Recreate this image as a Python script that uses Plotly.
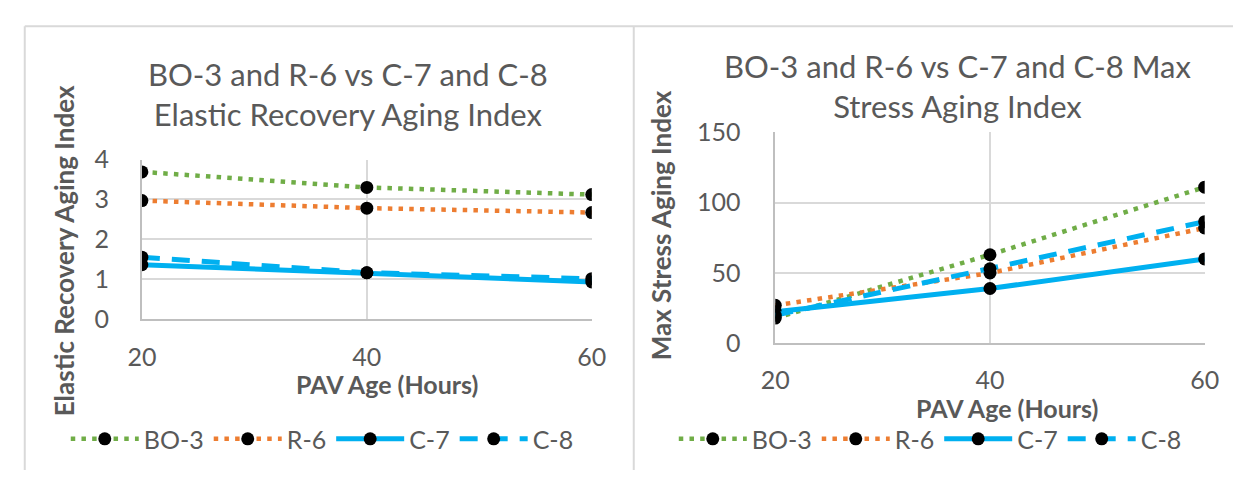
import plotly.graph_objects as go

W, H = 1248, 484

pav_hours = [20, 40, 60]
series_names = ["BO-3", "R-6", "C-7", "C-8"]

# Elastic Recovery Aging Index
er_bo3 = [3.69, 3.30, 3.12]
er_r6 = [2.97, 2.78, 2.67]
er_c7 = [1.36, 1.16, 0.93]
er_c8 = [1.55, 1.16, 1.01]

# Max Stress Aging Index
ms_bo3 = [18.0, 63.0, 111.0]
ms_r6 = [27.0, 50.0, 82.0]
ms_c7 = [22.5, 39.0, 60.0]
ms_c8 = [20.0, 53.0, 86.5]

x_ticks = [20, 40, 60]
er_ticks = [0, 1, 2, 3, 4]
ms_ticks = [0, 50, 100, 150]

FONT = "Lato"
GRAY = "#595959"
GRID = "#d9d9d9"
AXL = "#bfbfbf"

styles = {
    "BO-3": dict(color="#70AD47", width=4.5, dash="4.5px,6.2px"),
    "R-6": dict(color="#ED7D31", width=4.5, dash="4.5px,6.2px"),
    "C-7": dict(color="#00B0F0", width=5, dash="solid"),
    "C-8": dict(color="#00B0F0", width=5, dash="18px,12px"),
}


def px_x(p):
    return p / W


def px_y(p):
    return 1 - p / H


fig = go.Figure()

left_data = [er_bo3, er_r6, er_c7, er_c8]
right_data = [ms_bo3, ms_r6, ms_c7, ms_c8]

for name, ys in zip(series_names, left_data):
    fig.add_trace(go.Scatter(
        x=pav_hours, y=ys, name=name, mode="lines+markers",
        line=styles[name], marker=dict(color="black", size=13),
        xaxis="x", yaxis="y", legend="legend"))

for name, ys in zip(series_names, right_data):
    fig.add_trace(go.Scatter(
        x=pav_hours, y=ys, name=name, mode="lines+markers",
        line=styles[name], marker=dict(color="black", size=13),
        xaxis="x2", yaxis="y2", legend="legend2"))

axis_common = dict(
    showgrid=True, gridcolor=GRID, gridwidth=1.5,
    showline=True, linecolor=AXL, linewidth=1.5,
    zeroline=False, ticks="",
    tickfont=dict(family=FONT, size=25, color=GRAY),
)

legend_common = dict(orientation="h", xanchor="left", yanchor="middle",
                     font=dict(family=FONT, size=25, color=GRAY), itemwidth=68,
                     bgcolor="rgba(0,0,0,0)", tracegroupgap=0)

fig.update_layout(
    width=W, height=H,
    margin=dict(l=0, r=0, t=0, b=0),
    paper_bgcolor="white", plot_bgcolor="white",
    font=dict(family=FONT, color=GRAY),
    xaxis=dict(domain=[px_x(130), px_x(591)], range=[20, 60],
               tickvals=x_ticks, anchor="y", ticklabelstandoff=15, **axis_common),
    yaxis=dict(domain=[px_y(323), px_y(153)], range=[0, 4],
               tickvals=er_ticks, anchor="x", ticklabelstandoff=26, **axis_common),
    xaxis2=dict(domain=[px_x(779), px_x(1219)], range=[20, 60],
                tickvals=x_ticks, anchor="y2", ticklabelstandoff=14, **axis_common),
    yaxis2=dict(domain=[px_y(349), px_y(124)], range=[0, 150],
                tickvals=ms_ticks, anchor="x2", ticklabelstandoff=28, **axis_common),
    legend=dict(x=px_x(52), y=px_y(451), **legend_common),
    legend2=dict(x=px_x(675), y=px_y(451), **legend_common),
)

annots = [
    dict(text="BO-3 and R-6 vs C-7 and C-8<br>Elastic Recovery Aging Index",
         x=px_x(341), y=px_y(83), font=dict(size=31)),
    dict(text="BO-3 and R-6 vs C-7 and C-8 Max<br>Stress Aging Index",
         x=px_x(966), y=px_y(75), font=dict(size=31)),
    dict(text="<b>PAV Age (Hours)</b>", x=px_x(381), y=px_y(392), font=dict(size=25)),
    dict(text="<b>PAV Age (Hours)</b>", x=px_x(1016), y=px_y(418), font=dict(size=25)),
    dict(text="<b>Elastic Recovery Aging Index</b>", x=px_x(50), y=px_y(250),
         textangle=-90, font=dict(size=26)),
    dict(text="<b>Max Stress Aging Index</b>", x=px_x(662), y=px_y(223),
         textangle=-90, font=dict(size=26)),
]
for a in annots:
    a["font"].update(family=FONT, color=GRAY)
    fig.add_annotation(xref="paper", yref="paper", showarrow=False,
                       xanchor="center", yanchor="middle", **a)

border = dict(color="#d9d9d9", width=2)
fig.add_shape(type="line", xref="paper", yref="paper", x0=px_x(10), x1=1, y0=px_y(11), y1=px_y(11), line=border)
fig.add_shape(type="line", xref="paper", yref="paper", x0=px_x(10), x1=px_x(10), y0=0, y1=px_y(11), line=border)
fig.add_shape(type="line", xref="paper", yref="paper", x0=px_x(634), x1=px_x(634), y0=0, y1=px_y(11), line=border)

fig.write_html("out.html")
